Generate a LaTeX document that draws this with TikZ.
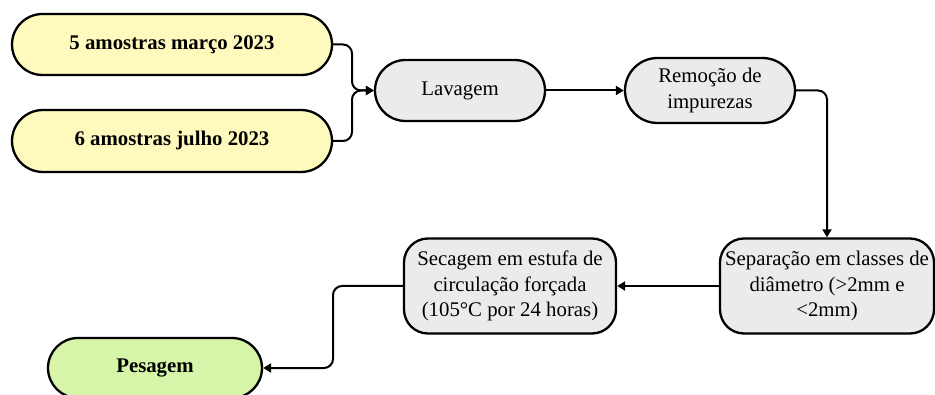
\documentclass[tikz,border=0pt]{standalone}
\usepackage{fontspec}
\setmainfont{Liberation Serif}
\usetikzlibrary{shapes.misc,arrows.meta}
\definecolor{boxyellow}{HTML}{FEF9BC}
\definecolor{boxgray}{HTML}{EBEBEB}
\definecolor{boxgreen}{HTML}{D6F5A8}
\begin{document}
\begin{tikzpicture}[x=1pt,y=1pt,
  base/.style={draw=black, line width=2.3pt, align=center, inner sep=0pt,
    font=\fontsize{20.8}{25.5}\selectfont},
  bold/.style={font=\fontsize{20.8}{25.5}\selectfont\bfseries},
  pill/.style={base, rounded rectangle},
  rbox/.style={base, rounded corners=24pt},
  conn/.style={line width=2pt, rounded corners=9pt, -{Triangle[length=8pt,width=9pt]}},
  line/.style={line width=2pt, rounded corners=9pt}]
\useasboundingbox (0,0) rectangle (935,394);
\node[pill, bold, fill=boxyellow, minimum width=320pt, minimum height=61pt] (m1) at (172,349.5) {5 amostras março 2023};
\node[pill, bold, fill=boxyellow, minimum width=320pt, minimum height=62pt] (m2) at (172,253) {6 amostras julho 2023};
\node[pill, fill=boxgray, minimum width=170pt, minimum height=61pt] (lav) at (460,303.5) {Lavagem};
\node[pill, fill=boxgray, minimum width=170pt, minimum height=65pt] (rem) at (710,303.5) {Remoção de\\impurezas};
\node[rbox, fill=boxgray, minimum width=214pt, minimum height=95pt] (sep) at (827,108) {Separação em classes de\\diâmetro (>2mm e\\<2mm)};
\node[rbox, fill=boxgray, minimum width=212pt, minimum height=95pt] (sec) at (510,108) {Secagem em estufa de\\circulação forçada\\(105°C por 24 horas)};
\node[pill, bold, fill=boxgreen, minimum width=214pt, minimum height=60pt] (pes) at (155,26) {Pesagem};
\coordinate (j) at (352,303.5);
\coordinate (k) at (333,26);
\draw[conn] (m1.east) -| (j) -- (lav.west);
\draw[conn] (m2.east) -| (j) -- (lav.west);
\draw[conn] (lav.east) -- (rem.west);
\draw[conn] (rem.east) -| (sep.north);
\draw[conn] (sep.west) -- (sec.east);
\draw[conn] (sec.west) -| (k) -- (pes.east);
\end{tikzpicture}
\end{document}
